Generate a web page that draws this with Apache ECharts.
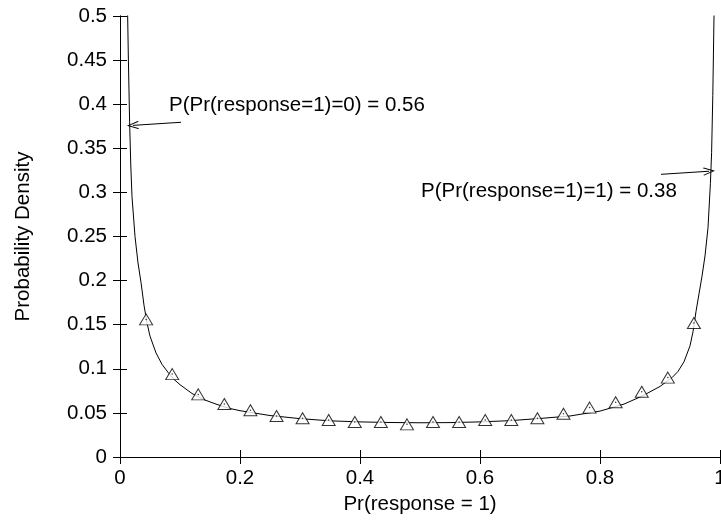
<!DOCTYPE html>
<html>
<head>
<meta charset="utf-8">
<script src="https://cdn.jsdelivr.net/npm/echarts@6/dist/echarts.min.js"></script>
<style>html,body{margin:0;padding:0;background:#fff}#c{width:721px;height:523px}</style>
</head>
<body>
<div id="c"></div>
<script>
// Curve (density)
var curveX = [0.008,0.010,0.012,0.014,0.016,0.018,0.020,0.025,0.030,0.035,0.040,0.045,0.050,0.060,0.070,0.080,0.090,0.100,0.120,0.140,0.160,0.180,0.200,0.250,0.300,0.350,0.400,0.450,0.500,0.550,0.600,0.650,0.700,0.750,0.800,0.840,0.870,0.900,0.920,0.930,0.940,0.950,0.955,0.960,0.965,0.970,0.975,0.980,0.984,0.986,0.988,0.990,0.992,0.994];
var curveY = [0.75,0.62,0.53,0.45,0.38,0.33,0.295,0.25,0.22,0.198,0.172,0.152,0.137,0.118,0.105,0.096,0.088,0.082,0.072,0.065,0.060,0.0555,0.0525,0.047,0.0435,0.041,0.0398,0.0391,0.0388,0.039,0.0398,0.0412,0.0437,0.0465,0.052,0.060,0.069,0.080,0.090,0.097,0.108,0.126,0.142,0.165,0.185,0.205,0.228,0.26,0.31,0.345,0.41,0.50,0.62,0.75];
// Triangle markers
var markX = [0.0435,0.0870,0.1304,0.1739,0.2174,0.2609,0.3043,0.3478,0.3913,0.4348,0.4783,0.5217,0.5652,0.6087,0.6522,0.6957,0.7391,0.7826,0.8261,0.8696,0.9130,0.9565];
var markY = [0.156,0.094,0.071,0.060,0.053,0.0465,0.044,0.042,0.0397,0.0397,0.037,0.0397,0.0397,0.042,0.042,0.044,0.049,0.056,0.062,0.074,0.090,0.152];
// Annotations
var noteLeft = 'P(Pr(response=1)=0) = 0.56';
var noteRight = 'P(Pr(response=1)=1) = 0.38';
var xTitle = 'Pr(response = 1)';
var yTitle = 'Probability Density';

var FONT = 'Liberation Sans';
var FS = 20.5;
var curve = curveX.map(function(x,i){return [x,curveY[i]];});
var marks = markX.map(function(x,i){return [x,markY[i]];});
var chev = 'path://M5,0 L10,9 L9.2,9.8 L5,2.2 L0.8,9.8 L0,9 Z';

var chart = echarts.init(document.getElementById('c'), null, {renderer:'canvas'});
var axLine = {show:true, lineStyle:{color:'#000', width:1}};
var tick = {show:true, inside:true, length:7, lineStyle:{color:'#000', width:1}};
chart.setOption({
  animation:false,
  backgroundColor:'#fff',
  textStyle:{fontFamily:FONT},
  grid:{left:120, right:1, top:16, bottom:66, containLabel:false, outerBoundsMode:'none'},
  xAxis:[{
    type:'value', min:0, max:1, interval:0.2, position:'bottom',
    name:xTitle, nameLocation:'middle', nameGap:24,
    nameTextStyle:{color:'#000', fontSize:FS, fontFamily:FONT},
    axisLine:axLine, axisTick:tick, splitLine:{show:false},
    axisLabel:{color:'#000', fontSize:FS, fontFamily:FONT, margin:11}
  },{
    type:'value', min:0, max:1, interval:0.2, position:'top',
    axisLine:axLine, axisTick:tick, splitLine:{show:false}, axisLabel:{show:false}
  }],
  yAxis:[{
    type:'value', min:0, max:0.5, interval:0.05, position:'left',
    name:yTitle, nameLocation:'middle', nameGap:86,
    nameTextStyle:{color:'#000', fontSize:FS, fontFamily:FONT},
    axisLine:axLine, axisTick:tick, splitLine:{show:false},
    axisLabel:{color:'#000', fontSize:FS, fontFamily:FONT, margin:13}
  },{
    type:'value', min:0, max:0.5, interval:0.05, position:'right',
    axisLine:axLine, axisTick:tick, splitLine:{show:false}, axisLabel:{show:false}
  }],
  series:[{
    type:'line', data:curve, showSymbol:false, symbol:'none', clip:true,
    lineStyle:{color:'#000', width:1}, silent:true,
    markLine:{
      silent:true, animation:false,
      label:{show:false},
      lineStyle:{color:'#000', width:1, type:'solid'},
      symbolSize:[8,12],
      data:[
        [{coord:[0.1017,0.3795], symbol:'none'},{coord:[0.0215,0.3760], symbol:chev}],
        [{coord:[0.9017,0.3205], symbol:'none'},{coord:[0.9817,0.3240], symbol:chev}]
      ]
    },
    markPoint:{
      silent:true, animation:false, symbol:'circle', symbolSize:0,
      label:{show:true, position:'right', distance:0, color:'#000', fontSize:FS, fontFamily:FONT},
      data:[
        {coord:[0.0817,0.399], value:noteLeft, label:{formatter:noteLeft}},
        {coord:[0.5017,0.3008], value:noteRight, label:{formatter:noteRight}}
      ]
    }
  },{
    type:'scatter', data:marks, symbol:'triangle', symbolSize:[13,11],
    itemStyle:{color:'#fff', borderColor:'#000', borderWidth:1}, silent:true, z:3
  },{
    type:'scatter', data:marks, symbol:'circle', symbolSize:1.5,
    itemStyle:{color:'#000'}, silent:true, z:4
  }]
});
</script>
</body>
</html>
